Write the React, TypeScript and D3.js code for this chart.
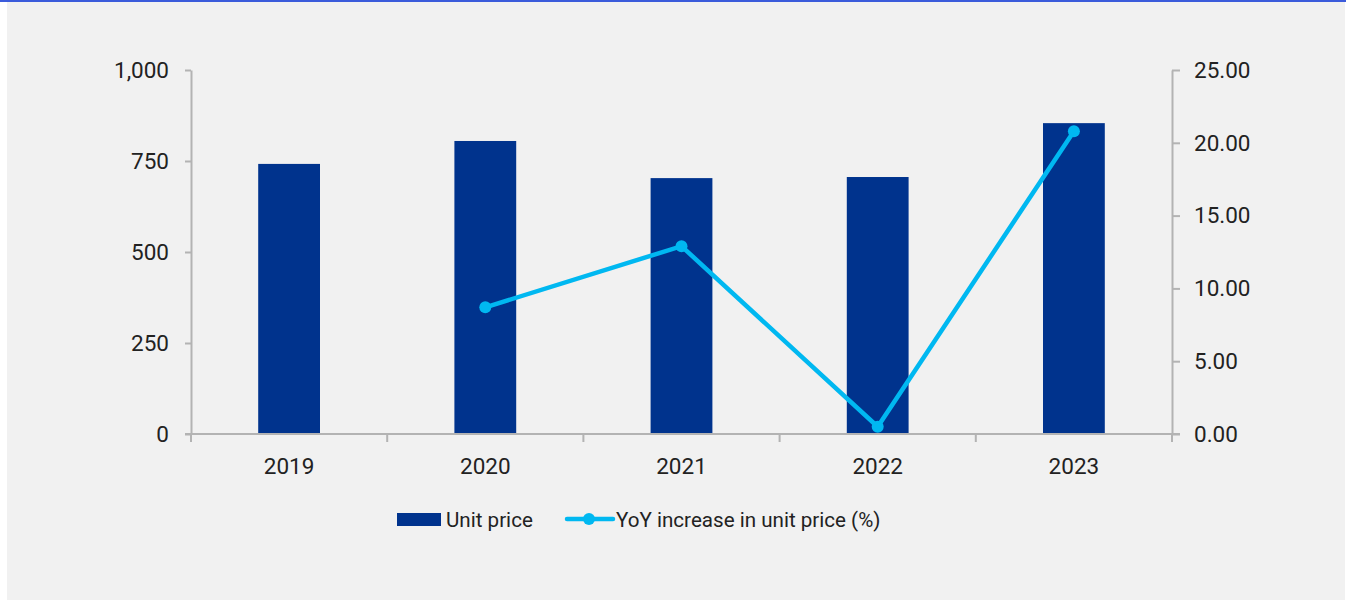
import React, { useEffect, useRef } from 'react';
import { select, scaleBand, scaleLinear, axisLeft, axisRight, line } from 'd3';

const years = ['2019', '2020', '2021', '2022', '2023'];
const unitPrice = [742, 805, 703, 706, 854];
const yoyIncrease = [null, 8.7, 12.9, 0.5, 20.8];
const leftTicks = [0, 250, 500, 750, 1000];
const rightTicks = [0, 5, 10, 15, 20, 25];

const App = () => {
  const svgRef = useRef(null);

  useEffect(() => {
    const svg = select(svgRef.current);
    svg.selectAll('*').remove();

    const width = 1346;
    const height = 600;
    const left = 191;
    const right = 1172;
    const top = 70;
    const bottom = 434;
    const font = 'Roboto, "Liberation Sans", Arial, sans-serif';
    const fontSize = 22.5;
    const legendSize = 20.6;
    const axisColor = '#b3b3b3';
    const textColor = '#222';

    // background panel with thin blue line on top
    svg.append('rect').attr('x', 0).attr('y', 0).attr('width', width).attr('height', height).attr('fill', '#fff');
    svg.append('rect').attr('x', 7).attr('y', 2).attr('width', 1338).attr('height', height - 2).attr('fill', '#f1f1f1');
    svg.append('rect').attr('x', 0).attr('y', 0).attr('width', width).attr('height', 2).attr('fill', '#3b5bdb');

    const x = scaleBand().domain(years).range([left, right]).paddingInner(0).paddingOuter(0);
    const yL = scaleLinear().domain([0, 1000]).range([bottom, top]);
    const yR = scaleLinear().domain([0, 25]).range([bottom, top]);

    const barW = x.bandwidth() * 0.315;

    // bars
    svg.append('g')
      .selectAll('rect')
      .data(unitPrice)
      .join('rect')
      .attr('x', (_d, i) => (x(years[i]) as number) + x.bandwidth() / 2 - barW / 2)
      .attr('y', (d) => yL(d))
      .attr('width', barW)
      .attr('height', (d) => bottom - yL(d))
      .attr('fill', '#00338d');

    const styleAxis = (g: any) => {
      g.select('.domain').attr('stroke', axisColor).attr('stroke-width', 2);
      g.selectAll('.tick line').attr('stroke', axisColor).attr('stroke-width', 2);
      g.selectAll('.tick text').attr('fill', textColor).attr('font-family', font).attr('font-size', fontSize);
    };

    // left axis
    svg.append('g')
      .attr('transform', `translate(${left},0)`)
      .call(axisLeft(yL).tickValues(leftTicks).tickSize(6).tickSizeOuter(0).tickPadding(16).tickFormat((d: any) => d.toLocaleString('en-US')))
      .call(styleAxis);

    // right axis
    svg.append('g')
      .attr('transform', `translate(${right},0)`)
      .call(axisRight(yR).tickValues(rightTicks).tickSize(8).tickSizeOuter(0).tickPadding(14).tickFormat((d: any) => d.toFixed(2)))
      .call(styleAxis);

    // bottom axis with ticks at category boundaries
    const xAxisG = svg.append('g').attr('transform', `translate(0,${bottom})`);
    xAxisG.append('line')
      .attr('x1', left - 6).attr('x2', right + 8)
      .attr('y1', 0).attr('y2', 0)
      .attr('stroke', axisColor).attr('stroke-width', 2);
    const bounds = years.map((yr) => x(yr) as number).concat([right]);
    xAxisG.selectAll('line.tk')
      .data(bounds)
      .join('line')
      .attr('class', 'tk')
      .attr('x1', (d) => d).attr('x2', (d) => d)
      .attr('y1', 0).attr('y2', 8)
      .attr('stroke', axisColor).attr('stroke-width', 2);
    xAxisG.selectAll('text')
      .data(years)
      .join('text')
      .attr('x', (d) => (x(d) as number) + x.bandwidth() / 2)
      .attr('y', 40)
      .attr('text-anchor', 'middle')
      .attr('fill', textColor)
      .attr('font-family', font)
      .attr('font-size', fontSize)
      .text((d) => d);

    // line series
    const pts = yoyIncrease
      .map((v, i) => ({ v, yr: years[i] }))
      .filter((p) => p.v !== null) as { v: number; yr: string }[];
    const lineGen = line<{ v: number; yr: string }>()
      .x((d) => (x(d.yr) as number) + x.bandwidth() / 2)
      .y((d) => yR(d.v));
    svg.append('path')
      .attr('d', lineGen(pts))
      .attr('fill', 'none')
      .attr('stroke', '#00b8f1')
      .attr('stroke-width', 4.5);
    svg.append('g')
      .selectAll('circle')
      .data(pts)
      .join('circle')
      .attr('cx', (d) => (x(d.yr) as number) + x.bandwidth() / 2)
      .attr('cy', (d) => yR(d.v))
      .attr('r', 6)
      .attr('fill', '#00b8f1');

    // legend
    const lg = svg.append('g').attr('font-family', font).attr('font-size', legendSize).attr('fill', textColor);
    lg.append('rect').attr('x', 397).attr('y', 513).attr('width', 44).attr('height', 13).attr('fill', '#00338d');
    lg.append('text').attr('x', 446).attr('y', 527).text('Unit price');
    lg.append('line').attr('x1', 567).attr('x2', 613).attr('y1', 519).attr('y2', 519)
      .attr('stroke', '#00b8f1').attr('stroke-width', 4.5).attr('stroke-linecap', 'round');
    lg.append('circle').attr('cx', 589).attr('cy', 519).attr('r', 6).attr('fill', '#00b8f1');
    lg.append('text').attr('x', 616).attr('y', 527).text('YoY increase in unit price (%)');
  }, []);

  return <svg ref={svgRef} width={1346} height={600} style={{ display: 'block', position: 'absolute', left: 0, top: 0 }}></svg>;
};

export default App;
